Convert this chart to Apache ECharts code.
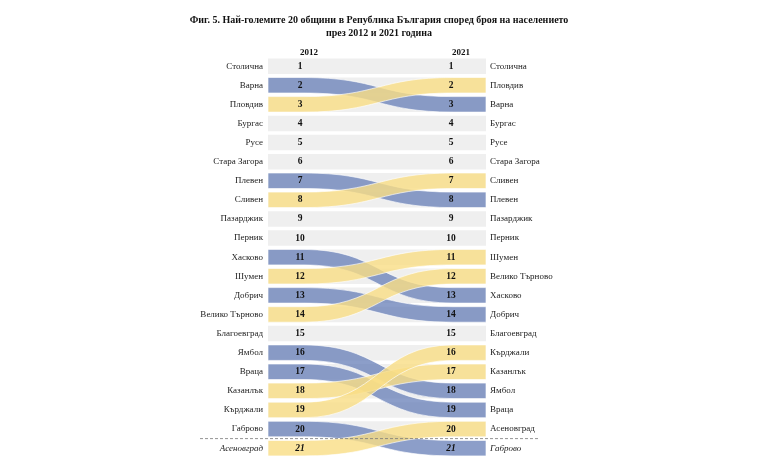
<!DOCTYPE html>
<html><head><meta charset="utf-8">
<script src="https://cdn.jsdelivr.net/npm/echarts@6/dist/echarts.min.js"></script>
<style>html,body{margin:0;padding:0;background:#fff}#c{width:780px;height:470px}</style>
</head><body><div id="c"></div>
<script>
const titleText = 'Фиг. 5. Най-големите 20 общини в Република България според броя на населението\nпрез 2012 и 2021 година';
const years = ['2012', '2021'];
const names2012 = ['Столична','Варна','Пловдив','Бургас','Русе','Стара Загора','Плевен','Сливен','Пазарджик','Перник','Хасково','Шумен','Добрич','Велико Търново','Благоевград','Ямбол','Враца','Казанлък','Кърджали','Габрово','Асеновград'];
const names2021 = ['Столична','Пловдив','Варна','Бургас','Русе','Стара Загора','Сливен','Плевен','Пазарджик','Перник','Шумен','Велико Търново','Хасково','Добрич','Благоевград','Кърджали','Казанлък','Ямбол','Враца','Асеновград','Габрово'];
const ranks = [1,2,3,4,5,6,7,8,9,10,11,12,13,14,15,16,17,18,19,20,21];
const topN = 20;

const SERIF = '"Liberation Serif", "Times New Roman", serif';
const BLUE = 'rgba(104,128,184,0.76)';
const YELLOW = 'rgba(249,221,133,0.8)';
const GREY = '#efefef';
const BAR_H = 15.5;

// ribbons: [index2012, index2021]
const ribbons = [];
names2012.forEach((n, i) => {
  const j = names2021.indexOf(n);
  if (j !== i) ribbons.push([i, j]);
});

const chart = echarts.init(document.getElementById('c'), null, {renderer: 'canvas'});

function labelFmt(v, idx) { return idx === ranks.length - 1 ? '{i|' + v + '}' : v; }
const labelRich = { i: { fontFamily: SERIF, fontSize: 9, fontStyle: 'italic', color: '#222' } };

chart.setOption({
  animation: false,
  backgroundColor: '#fff',
  title: [
    { text: titleText, left: 374, top: 9, textAlign: 'center',
      textStyle: { fontFamily: SERIF, fontWeight: 'bold', fontSize: 10, lineHeight: 13, color: '#111' } },
    { text: years[0], left: 304, top: 43, textAlign: 'center',
      textStyle: { fontFamily: SERIF, fontWeight: 'bold', fontSize: 9, lineHeight: 9, color: '#111' } },
    { text: years[1], left: 456, top: 43, textAlign: 'center',
      textStyle: { fontFamily: SERIF, fontWeight: 'bold', fontSize: 9, lineHeight: 9, color: '#111' } }
  ],
  grid: { left: 268, right: 294, top: 56.6, bottom: 12.3 },
  xAxis: { type: 'value', min: 0, max: 1, show: false },
  yAxis: [
    { type: 'category', data: names2012, inverse: true, position: 'left',
      axisLine: {show: false}, axisTick: {show: false}, splitLine: {show: false},
      axisLabel: { margin: 5, fontFamily: SERIF, fontSize: 9, color: '#222', formatter: labelFmt, rich: labelRich } },
    { type: 'category', data: names2021, inverse: true, position: 'right',
      axisLine: {show: false}, axisTick: {show: false}, splitLine: {show: false},
      axisLabel: { margin: 4, fontFamily: SERIF, fontSize: 9, color: '#222', formatter: labelFmt, rich: labelRich } }
  ],
  series: [
    { // grey row bars
      type: 'custom', z: 1, silent: true,
      data: ranks.filter(r => r <= topN).map(r => [r - 1]),
      renderItem: function (params, api) {
        const idx = api.value(0);
        const p0 = api.coord([0, idx]);
        const p1 = api.coord([1, idx]);
        return { type: 'rect', shape: { x: p0[0], y: p0[1] - BAR_H / 2, width: p1[0] - p0[0], height: BAR_H },
          style: { fill: GREY } };
      }
    },
    { // ribbons
      type: 'custom', z: 2, silent: true,
      data: ribbons,
      renderItem: function (params, api) {
        const a = api.value(0), b = api.value(1);
        const pa = api.coord([0, a]);
        const pb = api.coord([1, b]);
        const xL = pa[0], xR = pb[0];
        const xa = xL + 36, xb = xR - 33, xm = (xa + xb) / 2;
        const h = BAR_H / 2;
        const t0 = pa[1] - h, b0 = pa[1] + h, t1 = pb[1] - h, b1 = pb[1] + h;
        const d = 'M' + xL + ' ' + t0 + ' L' + xa + ' ' + t0 +
          ' C' + xm + ' ' + t0 + ' ' + xm + ' ' + t1 + ' ' + xb + ' ' + t1 +
          ' L' + xR + ' ' + t1 + ' L' + xR + ' ' + b1 + ' L' + xb + ' ' + b1 +
          ' C' + xm + ' ' + b1 + ' ' + xm + ' ' + b0 + ' ' + xa + ' ' + b0 +
          ' L' + xL + ' ' + b0 + ' Z';
        return { type: 'path', shape: { pathData: d },
          style: { fill: b > a ? BLUE : YELLOW, stroke: 'rgba(255,255,255,0.8)', lineWidth: 0.8 } };
      }
    },
    { // divider between top 20 and 21st
      type: 'custom', z: 3, silent: true,
      data: [[topN - 1]],
      renderItem: function (params, api) {
        const idx = api.value(0);
        const p0 = api.coord([0, idx]);
        const p1 = api.coord([1, idx]);
        const y = p0[1] + api.size([0, 1])[1] / 2;
        return { type: 'line', shape: { x1: p0[0] - 68, y1: y, x2: p1[0] + 54, y2: y },
          style: { stroke: '#777', lineWidth: 0.8, lineDash: [3, 2] } };
      }
    },
    { // rank numbers
      type: 'custom', z: 4, silent: true,
      data: ranks.map(r => [r - 1, r]),
      renderItem: function (params, api) {
        const idx = api.value(0);
        const r = api.value(1);
        const p0 = api.coord([0, idx]);
        const p1 = api.coord([1, idx]);
        const st = { text: String(r), fontFamily: SERIF, fontWeight: 'bold', fontSize: 9.5,
          fontStyle: r > topN ? 'italic' : 'normal', fill: '#111', align: 'center', verticalAlign: 'middle' };
        return { type: 'group', children: [
          { type: 'text', x: p0[0] + 32, y: p0[1], style: Object.assign({}, st) },
          { type: 'text', x: p1[0] - 35, y: p1[1], style: Object.assign({}, st) }
        ]};
      }
    }
  ]
});
</script></body></html>
